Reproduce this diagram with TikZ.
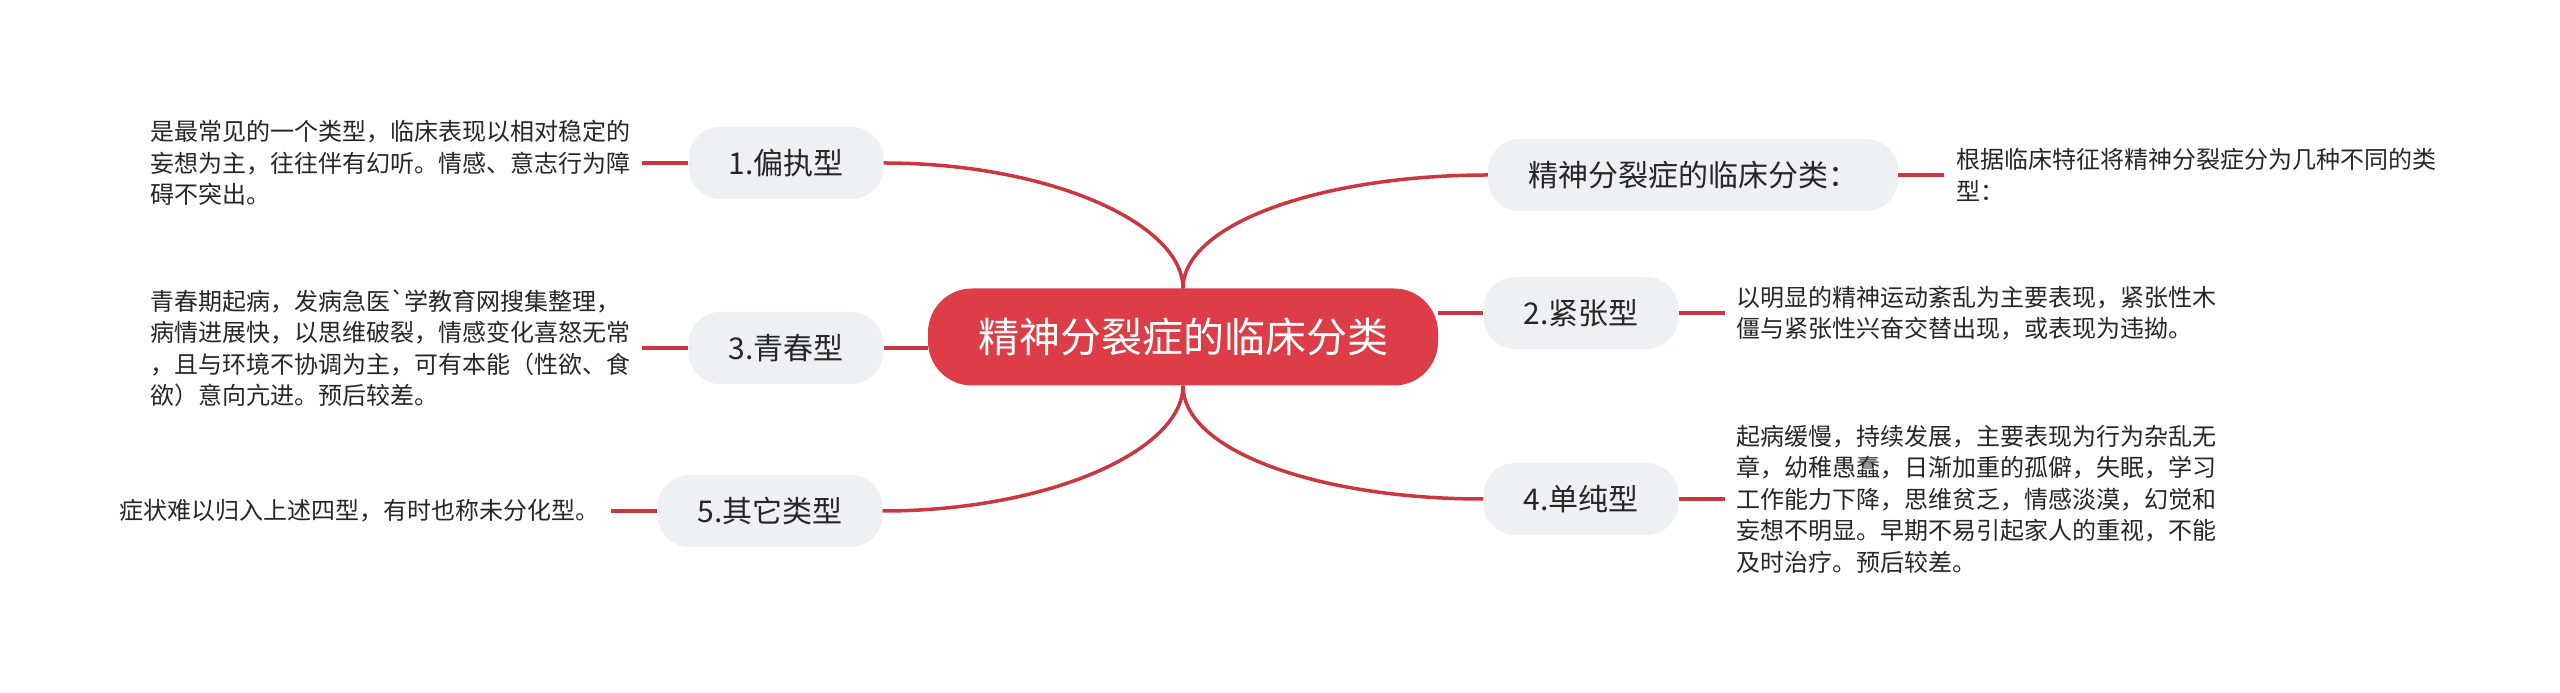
\documentclass[tikz,border=0pt]{standalone}
\usepackage{fontspec}
\setmainfont{Noto Sans CJK SC}
\usetikzlibrary{positioning}
\definecolor{rootred}{HTML}{DC3D46}
\definecolor{linered}{HTML}{CB363F}
\definecolor{pillgray}{HTML}{EEF1F4}
\definecolor{inkgray}{HTML}{262626}

\begin{document}
\begin{tikzpicture}[x=1pt,y=1pt,node distance=46pt,
    root/.style={fill=rootred,text=white,rounded corners=44pt,minimum height=97pt,inner xsep=50pt,font=\fontsize{41}{49}\selectfont},
    kind/.style={fill=pillgray,text=inkgray,rounded corners=32pt,minimum height=72pt,inner xsep=40pt,font=\fontsize{30}{36}\selectfont},
    note/.style={align=left,inner xsep=12pt,text=inkgray,font=\fontsize{24}{31.5}\selectfont},
    link/.style={draw=linered,line width=3.5pt},
    arm/.style={out distance=65pt,in distance=165pt}]
    \useasboundingbox (0,0) rectangle (2560,693);
    \node[root] (root) at (1183,356) {精神分裂症的临床分类};
    % the types, on grid round the root
    \node[kind, on grid, above left=174pt and 397pt of root] (paranoid) {1.偏执型};
    \node[kind, on grid, below left=11pt and 397pt of root] (hebephrenic) {3.青春型};
    \node[kind, on grid, below left=174pt and 413pt of root] (other) {5.其它类型};
    \node[kind, on grid, above right=162pt and 510pt of root] (intro) {精神分裂症的临床分类：};
    \node[kind, on grid, above right=24pt and 398pt of root] (catatonic) {2.紧张型};
    \node[kind, on grid, below right=162pt and 398pt of root] (simple) {4.单纯型};
    % the notes
    \node[note, left=of paranoid] (paranoidnote) {是最常见的一个类型，临床表现以相对稳定的\\妄想为主，往往伴有幻听。情感、意志行为障\\碍不突出。};
    \node[note, left=of hebephrenic] (hebephrenicnote) {青春期起病，发病急医\textasciigrave 学教育网搜集整理，\\病情进展快，以思维破裂，情感变化喜怒无常\\，且与环境不协调为主，可有本能（性欲、食\\欲）意向亢进。预后较差。};
    \node[note, left=of other] (othernote) {症状难以归入上述四型，有时也称未分化型。};
    \node[note, right=of intro] (intronote) {根据临床特征将精神分裂症分为几种不同的类\\型：};
    \node[note, right=of catatonic] (catatonicnote) {以明显的精神运动紊乱为主要表现，紧张性木\\僵与紧张性兴奋交替出现，或表现为违拗。};
    \node[note, right=of simple] (simplenote) {起病缓慢，持续发展，主要表现为行为杂乱无\\章，幼稚愚蠢，日渐加重的孤僻，失眠，学习\\工作能力下降，思维贫乏，情感淡漠，幻觉和\\妄想不明显。早期不易引起家人的重视，不能\\及时治疗。预后较差。};
    \path[link]
    (root) edge [out=90, in=0, arm] (paranoid)
           edge [out=-90, in=0, arm] (other)
           edge [out=90, in=180, arm] (intro)
           edge [out=-90, in=180, arm] (simple)
    (root.west |- hebephrenic) edge (hebephrenic)
    (root.east |- catatonic) edge (catatonic)
    (paranoidnote) edge (paranoid)
    (hebephrenicnote) edge (hebephrenic)
    (othernote) edge (other)
    (intro) edge (intronote)
    (catatonic) edge (catatonicnote)
    (simple) edge (simplenote);
\end{tikzpicture}
\end{document}
